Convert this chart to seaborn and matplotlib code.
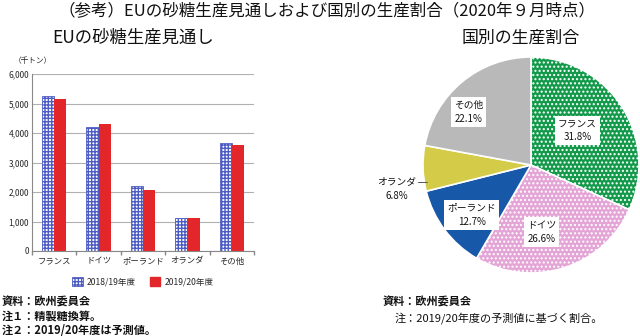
import matplotlib
matplotlib.use("Agg")
import matplotlib.pyplot as plt
import seaborn as sns
import pandas as pd
import numpy as np
from matplotlib.patches import Patch

countries = ["フランス", "ドイツ", "ポーランド", "オランダ", "その他"]
v_2018 = [5270, 4220, 2190, 1110, 3670]
v_2019 = [5140, 4310, 2060, 1110, 3590]
series = ["2018/19年度", "2019/20年度"]
y_ticks = [0, 1000, 2000, 3000, 4000, 5000, 6000]

pie_labels = ["フランス", "ドイツ", "ポーランド", "オランダ", "その他"]
pie_values = [31.8, 26.6, 12.7, 6.8, 22.1]
pie_colors = ["#12994a", "#e4a4d6", "#1858a8", "#d4cc48", "#b9b9b9"]

sns.set_theme(style="white")
plt.rcParams['font.family'] = ['Noto Sans CJK JP', 'DejaVu Sans']

fig = plt.figure(figsize=(6.4, 3.36), dpi=100)

W, H = 640, 336
def fx(x): return x / W
def fy(y): return 1 - y / H

fig.text(fx(327), fy(12), "（参考）EUの砂糖生産見通しおよび国別の生産割合（2020年９月時点）",
         ha="center", va="center", fontsize=11.9, color="#111111")
fig.text(fx(133), fy(38), "EUの砂糖生産見通し", ha="center", va="center", fontsize=12.5, color="#111111")
fig.text(fx(521), fy(38), "国別の生産割合", ha="center", va="center", fontsize=12.2, color="#111111")
fig.text(fx(14), fy(61), "（千トン）", ha="left", va="center", fontsize=5.5, color="#222222")

# Bar chart
df = pd.DataFrame({
    "country": countries * 2,
    "value": v_2018 + v_2019,
    "series": [series[0]] * len(countries) + [series[1]] * len(countries),
})
ax = fig.add_axes([fx(32), fy(251), fx(254) - fx(32), fy(74) - fy(251)])
sns.barplot(data=df, x="country", y="value", hue="series", order=countries,
            hue_order=series, palette=["#ffffff", "#e3262a"], width=0.55,
            ax=ax, legend=False, saturation=1)
bars = ax.patches
for p in bars[:len(countries)]:
    p.set_facecolor("#ffffff")
    p.set_edgecolor("#4d5cc4")
    p.set_hatch("+++++")
    p.set_linewidth(0.6)
for p in bars[len(countries):2 * len(countries)]:
    p.set_edgecolor("#e3262a")
    p.set_linewidth(0)
ax.set_ylim(0, 6000)
ax.set_xlim(-0.5, len(countries) - 0.5)
ax.set_yticks(y_ticks)
ax.set_yticklabels([f"{t:,}" for t in y_ticks], fontsize=6)
ax.tick_params(axis="x", labelsize=6, length=0, pad=4)
ax.tick_params(axis="y", length=0, pad=2)
ax.set_xlabel("")
ax.set_ylabel("")
ax.yaxis.grid(True, color="#b0b0b0", linewidth=0.8)
ax.set_axisbelow(True)
for s in ["top", "right"]:
    ax.spines[s].set_visible(False)
ax.spines["left"].set_color("#888888")
ax.spines["bottom"].set_color("#888888")
ax.spines["left"].set_linewidth(0.8)
ax.spines["bottom"].set_linewidth(0.8)
ax.set_xticks(np.arange(-0.5, len(countries)), minor=True)
ax.tick_params(axis="x", which="minor", length=3, color="#888888", bottom=True, direction="out")

# Legend
h1 = Patch(facecolor="#ffffff", edgecolor="#4d5cc4", hatch="+++++", linewidth=0.6, label=series[0])
h2 = Patch(facecolor="#e3262a", edgecolor="#e3262a", label=series[1])
fig.legend(handles=[h1, h2], loc="center", bbox_to_anchor=(fx(143), fy(282)), ncol=2,
           frameon=False, fontsize=6.2, handlelength=1.2, handleheight=1.2, columnspacing=1.6,
           handletextpad=0.5)

# Footnotes
fs = 8
fig.text(fx(2), fy(302), "資料：欧州委員会", ha="left", va="center", fontsize=fs, fontweight="bold", color="#111111")
fig.text(fx(2), fy(316), "注１：精製糖換算。", ha="left", va="center", fontsize=fs, fontweight="bold", color="#111111")
fig.text(fx(2), fy(330), "注２：2019/20年度は予測値。", ha="left", va="center", fontsize=fs, fontweight="bold", color="#111111")
fig.text(fx(383), fy(302), "資料：欧州委員会", ha="left", va="center", fontsize=fs, fontweight="bold", color="#111111")
fig.text(fx(395), fy(318), "注：2019/20年度の予測値に基づく割合。", ha="left", va="center", fontsize=fs, color="#111111")

# Pie
cx, cy, r = 531, 165, 108
pax = fig.add_axes([fx(cx - r), fy(cy + r), 2 * r / W, 2 * r / H])
wedges, _ = pax.pie(pie_values, colors=pie_colors, startangle=90, counterclock=False,
                    wedgeprops=dict(edgecolor="white", linewidth=1.2))
wedges[0].set_hatch("....")
wedges[1].set_hatch("....")
pax.set_xlim(-1, 1)
pax.set_ylim(-1, 1)
pax.set_aspect("equal")
pax.axis("off")

label_pos = [(0.43, 0.32), (0.10, -0.62), (-0.55, -0.46), None, (-0.58, 0.49)]
for lab, val, pos in zip(pie_labels, pie_values, label_pos):
    if pos is None:
        continue
    pax.text(pos[0], pos[1], f"{lab}\n{val}%", ha="center", va="center", fontsize=7,
             linespacing=1.5, color="#111111",
             bbox=dict(boxstyle="square,pad=0.3", facecolor="white", edgecolor="none"))
# Netherlands label outside
pax.text(-1.24, -0.22, f"{pie_labels[3]}\n{pie_values[3]}%", ha="center", va="center", fontsize=7,
         linespacing=1.5, color="#111111", clip_on=False)
pax.plot([-1.05, -0.96], [-0.16, -0.16], color="#555555", linewidth=0.7, clip_on=False)

fig.savefig("out.png", dpi=100)
